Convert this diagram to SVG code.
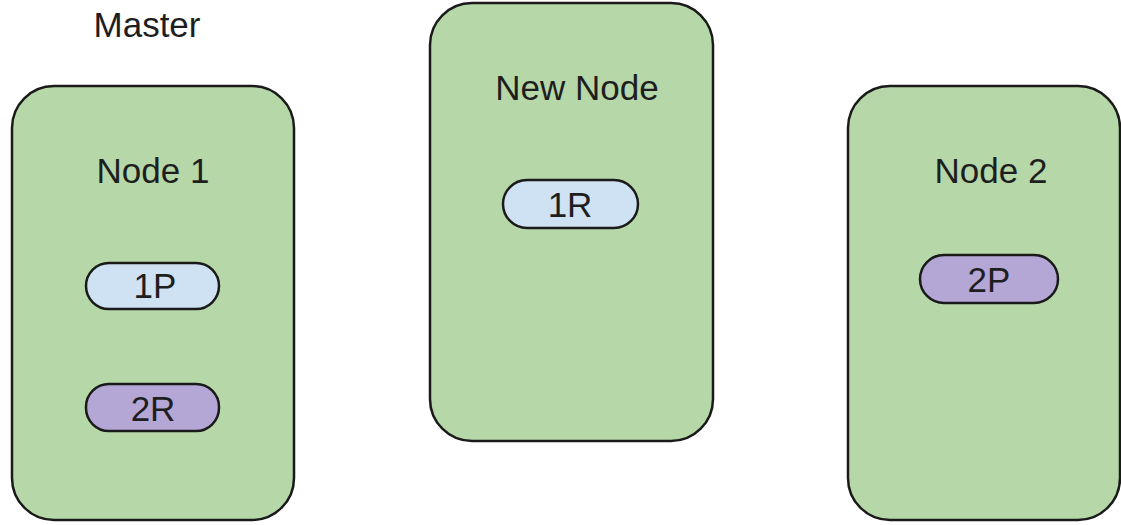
<svg xmlns="http://www.w3.org/2000/svg" width="1121" height="525" viewBox="0 0 1121 525">
<style>
.box{fill:#b6d7a8;stroke:#1a1a1a;stroke-width:2.5}
.pill{stroke:#1a1a1a;stroke-width:2.5}
.blue{fill:#cfe2f3}
.purple{fill:#b4a7d6}
text{font-family:"Liberation Sans",Arial,sans-serif;font-size:35px;fill:#1e1e1e;text-anchor:middle}
</style>
<rect width="1121" height="525" fill="#ffffff"/>
<text x="147" y="37">Master</text>
<g id="node1">
<rect class="box" x="12" y="86" width="282" height="434" rx="42"/>
<text x="153" y="183">Node 1</text>
<g id="shard1P"><rect class="pill blue" x="86" y="263" width="133" height="46" rx="23"/><text x="155" y="298">1P</text></g>
<g id="shard2R"><rect class="pill purple" x="86" y="384" width="133" height="47" rx="23"/><text x="153" y="421">2R</text></g>
</g>
<g id="newnode">
<rect class="box" x="430" y="3" width="283" height="438" rx="42"/>
<text x="577" y="100">New Node</text>
<g id="shard1R"><rect class="pill blue" x="503" y="180" width="135" height="48" rx="24"/><text x="570" y="217">1R</text></g>
</g>
<g id="node2">
<rect class="box" x="848" y="86" width="272" height="434" rx="42"/>
<text x="991" y="183">Node 2</text>
<g id="shard2P"><rect class="pill purple" x="920" y="255" width="138" height="48" rx="24"/><text x="989" y="292">2P</text></g>
</g>
<g id="connectors"/>
</svg>
